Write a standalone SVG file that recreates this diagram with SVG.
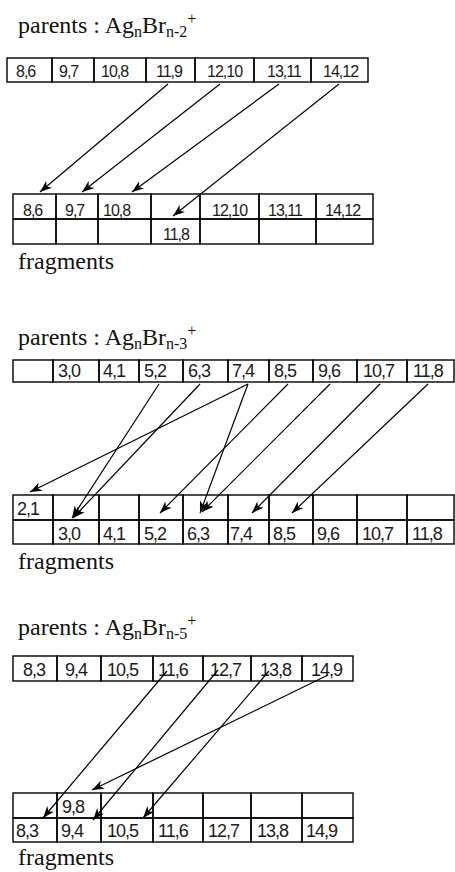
<svg xmlns="http://www.w3.org/2000/svg" width="455" height="872" viewBox="0 0 455 872">
  <style>
    .ttl { font-family: "Liberation Serif", "Times New Roman", serif; font-size: 24px; fill: #111; }
    .sub { font-size: 16px; }
    .cell { fill: none; stroke: #000; stroke-width: 1.4; }
    .v1 { font-family: "Liberation Sans", Arial, sans-serif; font-size: 16px; letter-spacing: -1px; fill: #1a1a1a; }
    .v2 { font-family: "Liberation Sans", Arial, sans-serif; font-size: 18px; letter-spacing: -1px; fill: #1a1a1a; }
    .arr { fill: none; stroke: #000; stroke-width: 1.2; marker-end: url(#head); }
  </style>
  <defs>
    <marker id="head" markerUnits="userSpaceOnUse" markerWidth="13" markerHeight="9" refX="12" refY="4.5" orient="auto">
      <path d="M0,0 L12,4.5 L0,9 L3.5,4.5 Z" fill="#000"/>
    </marker>
  </defs>
  <rect width="455" height="872" fill="#fff"/>

  <!-- ===== Block 1 : AgnBr(n-2)+ ===== -->
  <text class="ttl" x="18" y="33">parents : Ag<tspan class="sub" dy="4">n</tspan><tspan dy="-4">Br</tspan><tspan class="sub" dy="4">n-2</tspan><tspan class="sub" dy="-13">+</tspan></text>

  <g id="p1">
    <g id="p1-8-6"><rect class="cell" x="7" y="58" width="45" height="24"/><text class="v1" x="16" y="77">8,6</text></g>
    <g id="p1-9-7"><rect class="cell" x="52" y="58" width="42" height="24"/><text class="v1" x="59" y="77">9,7</text></g>
    <g id="p1-10-8"><rect class="cell" x="94" y="58" width="52" height="24"/><text class="v1" x="101" y="77">10,8</text></g>
    <g id="p1-11-9"><rect class="cell" x="146" y="58" width="49" height="24"/><text class="v1" x="156" y="77">11,9</text></g>
    <g id="p1-12-10"><rect class="cell" x="195" y="58" width="59" height="24"/><text class="v1" x="207" y="77">12,10</text></g>
    <g id="p1-13-11"><rect class="cell" x="254" y="58" width="57" height="24"/><text class="v1" x="267" y="77">13,11</text></g>
    <g id="p1-14-12"><rect class="cell" x="311" y="58" width="57" height="24"/><text class="v1" x="323" y="77">14,12</text></g>
  </g>

  <g id="f1">
    <g id="f1-8-6"><rect class="cell" x="13" y="194" width="43" height="25"/><text class="v1" x="23" y="216">8,6</text></g>
    <g id="f1-9-7"><rect class="cell" x="56" y="194" width="42" height="25"/><text class="v1" x="65" y="216">9,7</text></g>
    <g id="f1-10-8"><rect class="cell" x="98" y="194" width="53" height="25"/><text class="v1" x="103" y="216">10,8</text></g>
    <g id="f1-gap"><rect class="cell" x="151" y="194" width="49" height="25"/></g>
    <g id="f1-12-10"><rect class="cell" x="200" y="194" width="59" height="25"/><text class="v1" x="212" y="216">12,10</text></g>
    <g id="f1-13-11"><rect class="cell" x="259" y="194" width="57" height="25"/><text class="v1" x="268" y="216">13,11</text></g>
    <g id="f1-14-12"><rect class="cell" x="316" y="194" width="57" height="25"/><text class="v1" x="325" y="216">14,12</text></g>
    <g id="f1-r2a"><rect class="cell" x="13" y="219" width="43" height="25"/></g>
    <g id="f1-r2b"><rect class="cell" x="56" y="219" width="42" height="25"/></g>
    <g id="f1-r2c"><rect class="cell" x="98" y="219" width="53" height="25"/></g>
    <g id="f1-11-8"><rect class="cell" x="151" y="219" width="49" height="25"/><text class="v1" x="163" y="240">11,8</text></g>
    <g id="f1-r2e"><rect class="cell" x="200" y="219" width="59" height="25"/></g>
    <g id="f1-r2f"><rect class="cell" x="259" y="219" width="57" height="25"/></g>
    <g id="f1-r2g"><rect class="cell" x="316" y="219" width="57" height="25"/></g>
  </g>
  <text class="ttl" x="18" y="269">fragments</text>

  <g id="links1">
    <line class="arr" x1="168" y1="84" x2="40" y2="192"/>
    <line class="arr" x1="220" y1="84" x2="82" y2="192"/>
    <line class="arr" x1="279" y1="84" x2="132" y2="192"/>
    <line class="arr" x1="339" y1="84" x2="173" y2="216"/>
  </g>

  <!-- ===== Block 2 : AgnBr(n-3)+ ===== -->
  <text class="ttl" x="18" y="345">parents : Ag<tspan class="sub" dy="4">n</tspan><tspan dy="-4">Br</tspan><tspan class="sub" dy="4">n-3</tspan><tspan class="sub" dy="-13">+</tspan></text>

  <g id="p2">
    <g id="p2-empty"><rect class="cell" x="13" y="360" width="40" height="22"/></g>
    <g id="p2-3-0"><rect class="cell" x="53" y="360" width="46" height="22"/><text class="v2" x="58" y="377">3,0</text></g>
    <g id="p2-4-1"><rect class="cell" x="99" y="360" width="40" height="22"/><text class="v2" x="103" y="377">4,1</text></g>
    <g id="p2-5-2"><rect class="cell" x="139" y="360" width="44" height="22"/><text class="v2" x="144" y="377">5,2</text></g>
    <g id="p2-6-3"><rect class="cell" x="183" y="360" width="45" height="22"/><text class="v2" x="188" y="377">6,3</text></g>
    <g id="p2-7-4"><rect class="cell" x="228" y="360" width="41" height="22"/><text class="v2" x="232" y="377">7,4</text></g>
    <g id="p2-8-5"><rect class="cell" x="269" y="360" width="44" height="22"/><text class="v2" x="274" y="377">8,5</text></g>
    <g id="p2-9-6"><rect class="cell" x="313" y="360" width="44" height="22"/><text class="v2" x="318" y="377">9,6</text></g>
    <g id="p2-10-7"><rect class="cell" x="357" y="360" width="50" height="22"/><text class="v2" x="363" y="377">10,7</text></g>
    <g id="p2-11-8"><rect class="cell" x="407" y="360" width="47" height="22"/><text class="v2" x="413" y="377">11,8</text></g>
  </g>

  <g id="f2">
    <g id="f2-2-1"><rect class="cell" x="13" y="495" width="40" height="25"/><text class="v2" x="17" y="515">2,1</text></g>
    <g id="f2-r1b"><rect class="cell" x="53" y="495" width="46" height="25"/></g>
    <g id="f2-r1c"><rect class="cell" x="99" y="495" width="40" height="25"/></g>
    <g id="f2-r1d"><rect class="cell" x="139" y="495" width="44" height="25"/></g>
    <g id="f2-r1e"><rect class="cell" x="183" y="495" width="45" height="25"/></g>
    <g id="f2-r1f"><rect class="cell" x="228" y="495" width="41" height="25"/></g>
    <g id="f2-r1g"><rect class="cell" x="269" y="495" width="44" height="25"/></g>
    <g id="f2-r1h"><rect class="cell" x="313" y="495" width="44" height="25"/></g>
    <g id="f2-r1i"><rect class="cell" x="357" y="495" width="50" height="25"/></g>
    <g id="f2-r1j"><rect class="cell" x="407" y="495" width="47" height="25"/></g>
    <g id="f2-r2a"><rect class="cell" x="13" y="520" width="40" height="24"/></g>
    <g id="f2-3-0"><rect class="cell" x="53" y="520" width="46" height="24"/><text class="v2" x="58" y="540">3,0</text></g>
    <g id="f2-4-1"><rect class="cell" x="99" y="520" width="40" height="24"/><text class="v2" x="103" y="540">4,1</text></g>
    <g id="f2-5-2"><rect class="cell" x="139" y="520" width="44" height="24"/><text class="v2" x="144" y="540">5,2</text></g>
    <g id="f2-6-3"><rect class="cell" x="183" y="520" width="45" height="24"/><text class="v2" x="187" y="540">6,3</text></g>
    <g id="f2-7-4"><rect class="cell" x="228" y="520" width="41" height="24"/><text class="v2" x="230" y="540">7,4</text></g>
    <g id="f2-8-5"><rect class="cell" x="269" y="520" width="44" height="24"/><text class="v2" x="273" y="540">8,5</text></g>
    <g id="f2-9-6"><rect class="cell" x="313" y="520" width="44" height="24"/><text class="v2" x="317" y="540">9,6</text></g>
    <g id="f2-10-7"><rect class="cell" x="357" y="520" width="50" height="24"/><text class="v2" x="362" y="540">10,7</text></g>
    <g id="f2-11-8"><rect class="cell" x="407" y="520" width="47" height="24"/><text class="v2" x="412" y="540">11,8</text></g>
  </g>
  <text class="ttl" x="18" y="569">fragments</text>

  <g id="links2">
    <line class="arr" x1="159" y1="384" x2="72" y2="518"/>
    <line class="arr" x1="200" y1="384" x2="73" y2="518"/>
    <line class="arr" x1="248" y1="384" x2="30" y2="492"/>
    <line class="arr" x1="248" y1="384" x2="200" y2="513"/>
    <line class="arr" x1="288" y1="384" x2="160" y2="513"/>
    <line class="arr" x1="330" y1="384" x2="202" y2="512"/>
    <line class="arr" x1="380" y1="384" x2="252" y2="513"/>
    <line class="arr" x1="428" y1="384" x2="292" y2="513"/>
  </g>

  <!-- ===== Block 3 : AgnBr(n-5)+ ===== -->
  <text class="ttl" x="18" y="635">parents : Ag<tspan class="sub" dy="4">n</tspan><tspan dy="-4">Br</tspan><tspan class="sub" dy="4">n-5</tspan><tspan class="sub" dy="-13">+</tspan></text>

  <g id="p3">
    <g id="p3-8-3"><rect class="cell" x="13" y="656" width="44" height="25"/><text class="v2" x="23" y="676">8,3</text></g>
    <g id="p3-9-4"><rect class="cell" x="57" y="656" width="44" height="25"/><text class="v2" x="65" y="676">9,4</text></g>
    <g id="p3-10-5"><rect class="cell" x="101" y="656" width="52" height="25"/><text class="v2" x="107" y="676">10,5</text></g>
    <g id="p3-11-6"><rect class="cell" x="153" y="656" width="50" height="25"/><text class="v2" x="158" y="676">11,6</text></g>
    <g id="p3-12-7"><rect class="cell" x="203" y="656" width="48" height="25"/><text class="v2" x="210" y="676">12,7</text></g>
    <g id="p3-13-8"><rect class="cell" x="251" y="656" width="51" height="25"/><text class="v2" x="260" y="676">13,8</text></g>
    <g id="p3-14-9"><rect class="cell" x="302" y="656" width="51" height="25"/><text class="v2" x="311" y="676">14,9</text></g>
  </g>

  <g id="f3">
    <g id="f3-r1a"><rect class="cell" x="13" y="793" width="44" height="25"/></g>
    <g id="f3-9-8"><rect class="cell" x="57" y="793" width="44" height="25"/><text class="v2" x="62" y="813">9,8</text></g>
    <g id="f3-r1c"><rect class="cell" x="101" y="793" width="52" height="25"/></g>
    <g id="f3-r1d"><rect class="cell" x="153" y="793" width="50" height="25"/></g>
    <g id="f3-r1e"><rect class="cell" x="203" y="793" width="48" height="25"/></g>
    <g id="f3-r1f"><rect class="cell" x="251" y="793" width="51" height="25"/></g>
    <g id="f3-r1g"><rect class="cell" x="302" y="793" width="51" height="25"/></g>
    <g id="f3-8-3"><rect class="cell" x="13" y="818" width="44" height="24"/><text class="v2" x="16" y="837">8,3</text></g>
    <g id="f3-9-4"><rect class="cell" x="57" y="818" width="44" height="24"/><text class="v2" x="61" y="837">9,4</text></g>
    <g id="f3-10-5"><rect class="cell" x="101" y="818" width="52" height="24"/><text class="v2" x="107" y="837">10,5</text></g>
    <g id="f3-11-6"><rect class="cell" x="153" y="818" width="50" height="24"/><text class="v2" x="158" y="837">11,6</text></g>
    <g id="f3-12-7"><rect class="cell" x="203" y="818" width="48" height="24"/><text class="v2" x="208" y="837">12,7</text></g>
    <g id="f3-13-8"><rect class="cell" x="251" y="818" width="51" height="24"/><text class="v2" x="257" y="837">13,8</text></g>
    <g id="f3-14-9"><rect class="cell" x="302" y="818" width="51" height="24"/><text class="v2" x="306" y="837">14,9</text></g>
  </g>
  <text class="ttl" x="18" y="865">fragments</text>

  <g id="links3">
    <line class="arr" x1="167" y1="671" x2="43" y2="818"/>
    <line class="arr" x1="218" y1="670" x2="93" y2="820"/>
    <line class="arr" x1="269" y1="671" x2="143" y2="818"/>
    <line class="arr" x1="328" y1="675" x2="92" y2="790"/>
  </g>
</svg>
